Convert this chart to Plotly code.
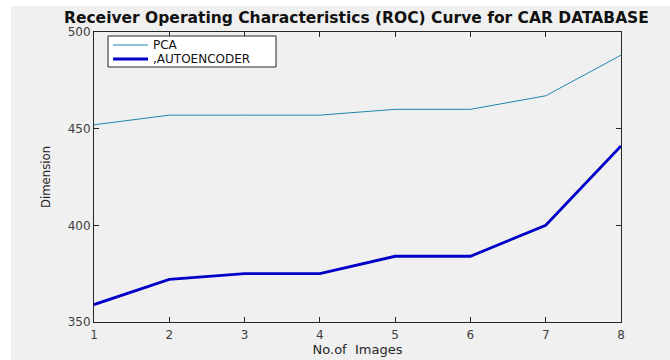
import plotly.graph_objects as go

# Number of images on the x axis
num_images = [1, 2, 3, 4, 5, 6, 7, 8]

# Dimension for each method
pca_dim = [452, 457, 457, 457, 460, 460, 467, 488]
autoencoder_dim = [359, 372, 375, 375, 384, 384, 400, 441]

y_ticks = [350, 400, 450, 500]

series = [
    ("PCA", pca_dim, "#1f86b0", 1),
    (",AUTOENCODER", autoencoder_dim, "#0000c8", 2.8),
]

FONT = "DejaVu Sans, Verdana, Arial"

fig = go.Figure()
for name, vals, color, width in series:
    fig.add_trace(go.Scatter(
        x=num_images, y=vals, mode="lines", name=name,
        line=dict(color=color, width=width), showlegend=False,
    ))

axis_common = dict(
    showline=True, linecolor="#262626", linewidth=1, mirror="ticks",
    ticks="inside", ticklen=5, tickcolor="#262626",
    showgrid=False, zeroline=False, automargin=False,
    tickfont=dict(family=FONT, size=12, color="#404040"),
)

# Boxed legend in the upper-left corner of the axes
shapes = [
    dict(type="rect", xref="paper", yref="paper",
         x0=-0.1575, x1=1.1, y0=-0.14, y1=1.0897,
         fillcolor="#f0f0f0", line=dict(width=0), layer="below"),
    dict(type="rect", xref="paper", yref="paper",
         x0=0.0266, x1=0.3454, y0=0.8793, y1=0.9862,
         fillcolor="white", line=dict(color="#262626", width=1)),
]
annotations = []
legend_rows = [0.9552, 0.9069]
for (name, _, color, width), ry in zip(series, legend_rows):
    shapes.append(dict(type="line", xref="paper", yref="paper",
                       x0=0.0361, x1=0.1025, y0=ry, y1=ry,
                       line=dict(color=color, width=width)))
    annotations.append(dict(text=name, xref="paper", yref="paper",
                            x=0.108, y=ry, xanchor="left", yanchor="middle",
                            showarrow=False,
                            font=dict(family=FONT, size=12, color="#111111")))

fig.update_layout(
    width=670, height=360,
    margin=dict(l=94, r=49, t=32, b=38),
    paper_bgcolor="white",
    plot_bgcolor="white",
    showlegend=False,
    title=dict(
        text="<b>Receiver Operating Characteristics (ROC) Curve for CAR DATABASE</b>",
        font=dict(family=FONT, size=15.5, color="#111111"),
        x=0.532, xanchor="center", y=0.952, yanchor="middle",
    ),
    xaxis=dict(
        range=[1, 8], tickvals=num_images, ticklabelstandoff=2, **axis_common,
        title=dict(text="No.of  Images", standoff=3,
                   font=dict(family=FONT, size=13, color="#262626")),
    ),
    yaxis=dict(
        range=[350, 500], tickvals=y_ticks, **axis_common,
        title=dict(text="Dimension", standoff=14,
                   font=dict(family="DejaVu Sans Condensed, Liberation Sans Narrow, Arial", size=13, color="#262626")),
    ),
    shapes=shapes,
    annotations=annotations,
)

fig.write_html("out.html")
